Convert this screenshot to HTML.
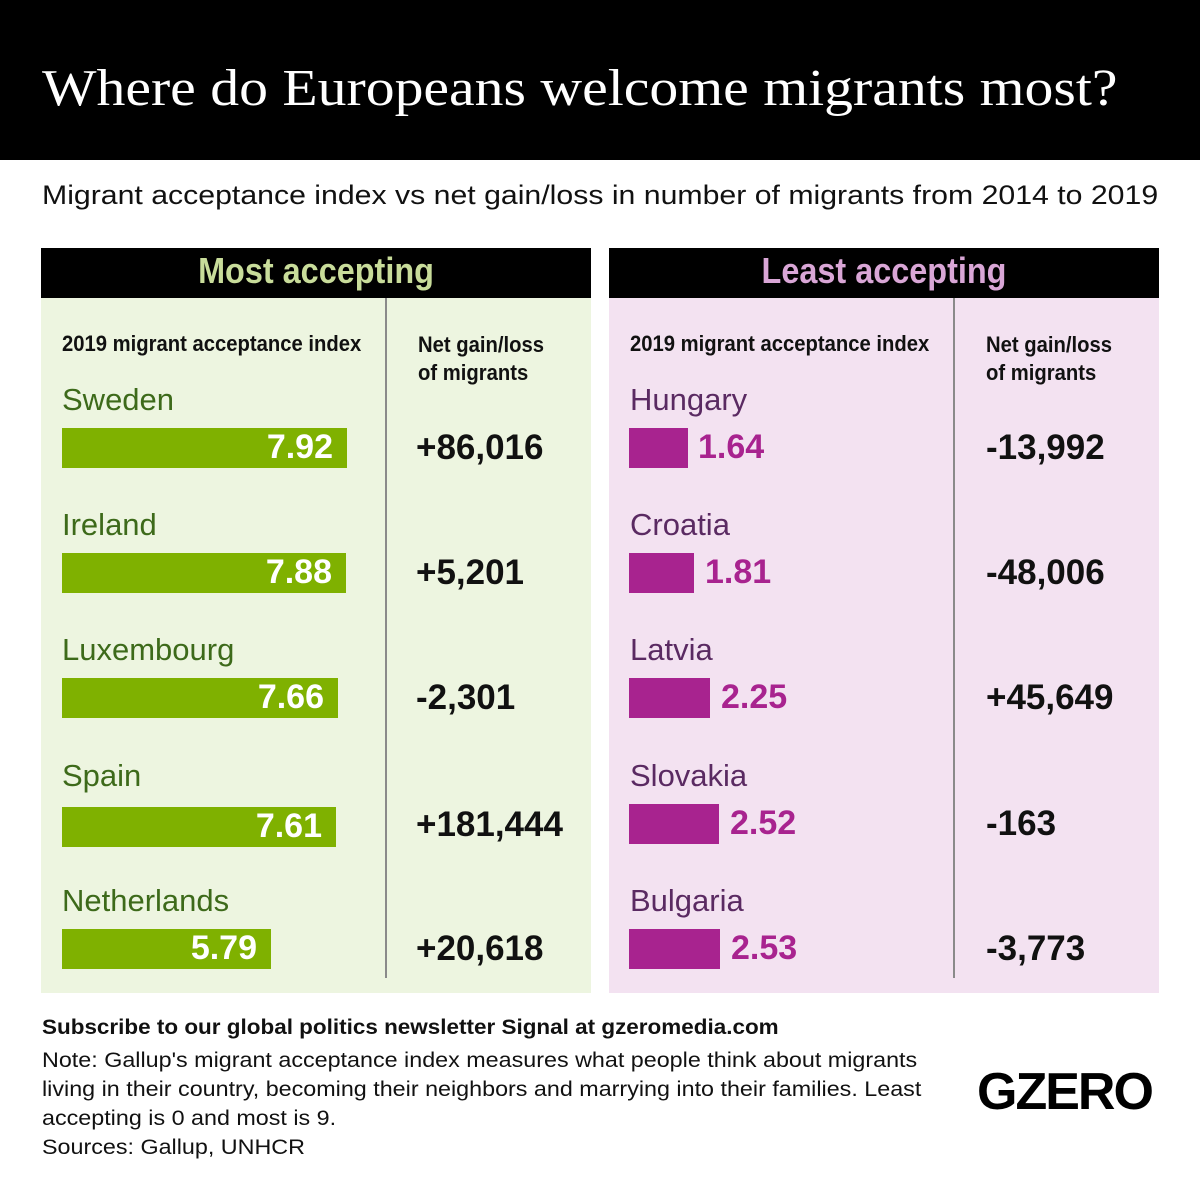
<!DOCTYPE html>
<html><head><style>
body{margin:0;width:1200px;height:1200px;background:#fff;position:relative;font-family:"Liberation Sans",sans-serif;overflow:hidden}
.a{position:absolute;white-space:nowrap}
.n{font-weight:bold}
.title{left:0;top:0;width:1200px;height:160px;background:#000}
.bar{position:absolute;height:40px}
.sx{transform-origin:0 0}
</style></head><body>
<div class="a title"></div>
<div class="a sx" style="left:42px;top:59px;color:#fff;font-family:'Liberation Serif',serif;font-size:52px;transform:scaleX(1.11)">Where do Europeans welcome migrants most?</div>
<div class="a sx" style="left:42px;top:180px;font-size:27px;color:#111;transform:scaleX(1.12)">Migrant acceptance index vs net gain/loss in number of migrants from 2014 to 2019</div>

<div class="a" style="left:41px;top:248px;width:550px;height:50px;background:#000"></div>
<div class="a" style="left:41px;top:298px;width:550px;height:695px;background:#edf5e0"></div>
<div class="a" style="left:385px;top:298px;width:2px;height:680px;background:#8a8a8a"></div>
<div class="a n" style="left:41px;width:550px;text-align:center;top:250px;font-size:36px;color:#c8dc9a;transform:scaleX(0.9)">Most accepting</div>

<div class="a" style="left:609px;top:248px;width:550px;height:50px;background:#000"></div>
<div class="a" style="left:609px;top:298px;width:550px;height:695px;background:#f3e2f1"></div>
<div class="a" style="left:953px;top:298px;width:2px;height:680px;background:#8a8a8a"></div>
<div class="a n" style="left:609px;width:550px;text-align:center;top:250px;font-size:36px;color:#d9a6d6;transform:scaleX(0.9)">Least accepting</div>

<div class="a n sx" style="left:62px;top:331px;font-size:22px;color:#111;transform:scaleX(0.92)">2019 migrant acceptance index</div>
<div class="a n sx" style="left:418px;top:331px;font-size:22px;line-height:28px;color:#111;transform:scaleX(0.92)">Net gain/loss<br>of migrants</div>
<div class="a n sx" style="left:630px;top:331px;font-size:22px;color:#111;transform:scaleX(0.92)">2019 migrant acceptance index</div>
<div class="a n sx" style="left:986px;top:331px;font-size:22px;line-height:28px;color:#111;transform:scaleX(0.92)">Net gain/loss<br>of migrants</div>

<div class="a" style="left:62px;top:382px;font-size:31px;color:#3d6a1a">Sweden</div>
<div class="bar" style="left:62px;top:428px;width:285px;background:#7fb100"></div>
<div class="a n" style="left:62px;width:271px;text-align:right;top:428px;font-size:34px;color:#fff">7.92</div>
<div class="a n" style="left:416px;top:428px;font-size:35px;color:#111">+86,016</div>

<div class="a" style="left:62px;top:507px;font-size:31px;color:#3d6a1a">Ireland</div>
<div class="bar" style="left:62px;top:553px;width:284px;background:#7fb100"></div>
<div class="a n" style="left:62px;width:270px;text-align:right;top:553px;font-size:34px;color:#fff">7.88</div>
<div class="a n" style="left:416px;top:553px;font-size:35px;color:#111">+5,201</div>

<div class="a" style="left:62px;top:632px;font-size:31px;color:#3d6a1a">Luxembourg</div>
<div class="bar" style="left:62px;top:678px;width:276px;background:#7fb100"></div>
<div class="a n" style="left:62px;width:262px;text-align:right;top:678px;font-size:34px;color:#fff">7.66</div>
<div class="a n" style="left:416px;top:678px;font-size:35px;color:#111">-2,301</div>

<div class="a" style="left:62px;top:758px;font-size:31px;color:#3d6a1a">Spain</div>
<div class="bar" style="left:62px;top:807px;width:274px;background:#7fb100"></div>
<div class="a n" style="left:62px;width:260px;text-align:right;top:807px;font-size:34px;color:#fff">7.61</div>
<div class="a n" style="left:416px;top:805px;font-size:35px;color:#111">+181,444</div>

<div class="a" style="left:62px;top:883px;font-size:31px;color:#3d6a1a">Netherlands</div>
<div class="bar" style="left:62px;top:929px;width:209px;background:#7fb100"></div>
<div class="a n" style="left:62px;width:195px;text-align:right;top:929px;font-size:34px;color:#fff">5.79</div>
<div class="a n" style="left:416px;top:929px;font-size:35px;color:#111">+20,618</div>

<div class="a" style="left:630px;top:382px;font-size:31px;color:#5a2a62">Hungary</div>
<div class="bar" style="left:629px;top:428px;width:59px;background:#a8238f"></div>
<div class="a n" style="left:698px;top:428px;font-size:34px;color:#a8238f">1.64</div>
<div class="a n" style="left:986px;top:428px;font-size:35px;color:#111">-13,992</div>

<div class="a" style="left:630px;top:507px;font-size:31px;color:#5a2a62">Croatia</div>
<div class="bar" style="left:629px;top:553px;width:65px;background:#a8238f"></div>
<div class="a n" style="left:705px;top:553px;font-size:34px;color:#a8238f">1.81</div>
<div class="a n" style="left:986px;top:553px;font-size:35px;color:#111">-48,006</div>

<div class="a" style="left:630px;top:632px;font-size:31px;color:#5a2a62">Latvia</div>
<div class="bar" style="left:629px;top:678px;width:81px;background:#a8238f"></div>
<div class="a n" style="left:721px;top:678px;font-size:34px;color:#a8238f">2.25</div>
<div class="a n" style="left:986px;top:678px;font-size:35px;color:#111">+45,649</div>

<div class="a" style="left:630px;top:758px;font-size:31px;color:#5a2a62">Slovakia</div>
<div class="bar" style="left:629px;top:804px;width:90px;background:#a8238f"></div>
<div class="a n" style="left:730px;top:804px;font-size:34px;color:#a8238f">2.52</div>
<div class="a n" style="left:986px;top:804px;font-size:35px;color:#111">-163</div>

<div class="a" style="left:630px;top:883px;font-size:31px;color:#5a2a62">Bulgaria</div>
<div class="bar" style="left:629px;top:929px;width:91px;background:#a8238f"></div>
<div class="a n" style="left:731px;top:929px;font-size:34px;color:#a8238f">2.53</div>
<div class="a n" style="left:986px;top:929px;font-size:35px;color:#111">-3,773</div>

<div class="a sx" style="left:42px;top:1016px;font-size:21px;font-weight:bold;color:#111;transform:scaleX(1.07)">Subscribe to our global politics newsletter Signal at gzeromedia.com</div>
<div class="a sx" style="left:42px;top:1046px;font-size:21px;line-height:29px;color:#111;transform:scaleX(1.11)">Note: Gallup's migrant acceptance index measures what people think about migrants<br>living in their country, becoming their neighbors and marrying into their families. Least<br>accepting is 0 and most is 9.<br>Sources: Gallup, UNHCR</div>
<div class="a" style="left:977px;top:1062px;font-size:52px;font-weight:bold;color:#000;letter-spacing:-2px">GZERO</div>
</body></html>
